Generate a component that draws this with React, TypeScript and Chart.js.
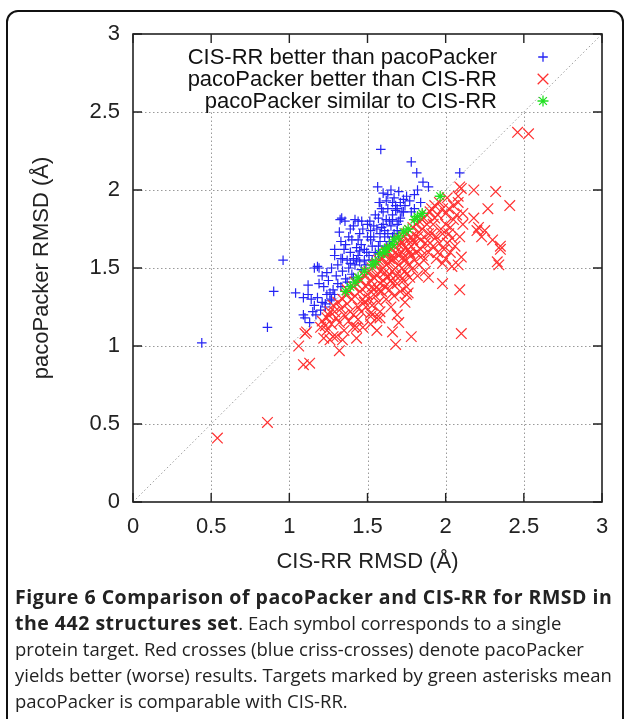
import React, { useEffect, useRef } from 'react';
import { Chart, registerables } from 'chart.js';

Chart.register(...registerables);

const xTickLabels = ['0', '0.5', '1', '1.5', '2', '2.5', '3'];
const yTickLabels = ['0', '0.5', '1', '1.5', '2', '2.5', '3'];
const gridValues = [0.5, 1, 1.5, 2, 2.5];
const tickValues = [0, 0.5, 1, 1.5, 2, 2.5, 3];
const xTitle = 'CIS-RR RMSD (Å)';
const yTitle = 'pacoPacker RMSD (Å)';
const legendLabels = [
  'CIS-RR better than pacoPacker',
  'pacoPacker better than CIS-RR',
  'pacoPacker similar to CIS-RR',
];
const diagonal: [number, number][] = [[0, 0], [3, 3]];

const cisBetter: [number, number][] = [
  [0.44, 1.02], [0.86, 1.12], [0.90, 1.35], [0.96, 1.55], [1.04, 1.34], [1.09, 1.31], [1.12, 1.39], [1.16, 1.50],
  [1.09, 1.20], [1.10, 1.18], [1.13, 1.15], [1.16, 1.26], [1.18, 1.31], [1.21, 1.28], [1.23, 1.25], [1.26, 1.34],
  [1.19, 1.50], [1.18, 1.51], [1.585, 2.26], [1.78, 2.18], [1.815, 2.11], [1.855, 2.05], [1.89, 2.02], [2.09, 2.11],
  [1.565, 2.02], [1.70, 1.99], [1.73, 1.94], [1.58, 1.92], [1.84, 1.92], [1.575, 1.92], [1.62, 1.93], [1.63, 1.88],
  [1.325, 1.81], [1.335, 1.82], [1.356, 1.80], [1.42, 1.81], [1.463, 1.80], [1.515, 1.80], [1.57, 1.82], [1.41, 1.77],
  [1.32, 1.73], [1.33, 1.67], [1.40, 1.68], [1.44, 1.68], [1.29, 1.58], [1.33, 1.56], [1.52, 1.74], [1.54, 1.70],
  [1.61, 1.70], [1.62, 1.81], [1.59, 1.76], [1.495, 1.60], [1.45, 1.61], [1.39, 1.60], [1.41, 1.56], [1.37, 1.55],
  [1.68, 1.90], [1.72, 1.86], [1.66, 1.84], [1.71, 1.82], [1.65, 1.77], [1.69, 1.74], [1.67, 1.72], [1.80, 1.88],
  [1.22, 1.38], [1.25, 1.42], [1.28, 1.36], [1.30, 1.45], [1.27, 1.50], [1.24, 1.47], [1.31, 1.40], [1.34, 1.48],
  [1.36, 1.43], [1.38, 1.50], [1.35, 1.62], [1.42, 1.52], [1.44, 1.58], [1.46, 1.65], [1.48, 1.55], [1.50, 1.70],
  [1.47, 1.75], [1.53, 1.64], [1.55, 1.60], [1.56, 1.75], [1.58, 1.67], [1.60, 1.78], [1.63, 1.72], [1.64, 1.80],
  [1.66, 1.92], [1.60, 1.86], [1.50, 1.78], [1.45, 1.72], [1.43, 1.63], [1.38, 1.70], [1.36, 1.65], [1.31, 1.52],
  [1.27, 1.30], [1.24, 1.33], [1.20, 1.23], [1.17, 1.20], [1.15, 1.22], [1.14, 1.30], [1.12, 1.33], [1.19, 1.40],
  [1.21, 1.45], [1.29, 1.62], [1.34, 1.56], [1.40, 1.46], [1.43, 1.55], [1.48, 1.62], [1.51, 1.58], [1.54, 1.77],
  [1.57, 1.64], [1.59, 1.88], [1.61, 1.74], [1.67, 1.95], [1.69, 1.88], [1.74, 1.90], [1.75, 1.96], [1.77, 1.93],
  [1.78, 1.86], [1.80, 1.97], [1.82, 2.00], [1.70, 1.80], [1.64, 1.67], [1.66, 1.70], [1.62, 1.64], [1.57, 1.59],
  [1.53, 1.55], [1.46, 1.49], [1.49, 1.52], [1.41, 1.44], [1.37, 1.41], [1.33, 1.38], [1.29, 1.33], [1.26, 1.29],
  [1.23, 1.27], [1.39, 1.53], [1.45, 1.54], [1.52, 1.68], [1.58, 1.72], [1.44, 1.80], [1.39, 1.75], [1.55, 1.84],
  [1.60, 1.98], [1.63, 1.97], [1.65, 2.00], [1.71, 1.92], [1.68, 1.87], [1.73, 1.86], [1.66, 1.81], [1.69, 1.78],
];

const pacoBetter: [number, number][] = [
  [0.54, 0.41], [0.86, 0.51], [1.06, 1.00], [1.10, 1.08], [1.09, 0.88], [1.13, 0.89], [1.20, 1.12],
  [2.46, 2.37], [2.53, 2.36], [2.10, 2.01], [2.18, 2.00], [2.32, 1.99], [2.41, 1.90], [2.27, 1.88], [2.08, 1.96],
  [2.08, 1.92], [2.20, 1.74], [2.25, 1.74], [2.23, 1.70], [2.30, 1.68], [2.35, 1.64], [2.00, 1.85], [2.11, 1.85],
  [2.05, 1.81], [2.09, 2.02], [2.21, 1.76], [2.09, 1.70], [2.04, 1.69], [2.10, 1.57], [2.33, 1.54], [2.18, 1.82],
  [2.11, 1.78], [2.35, 1.62], [2.34, 1.52], [1.98, 1.40], [2.09, 1.36], [2.10, 1.08], [1.76, 1.34], [1.70, 1.15],
  [1.66, 1.09], [1.68, 1.01], [1.78, 1.06], [1.32, 0.97], [1.28, 1.06], [1.52, 1.21], [1.58, 1.18], [1.41, 1.12],
  [1.24, 1.10], [1.24, 1.18], [1.89, 1.44], [1.75, 1.38], [2.00, 1.56], [2.04, 1.51], [2.08, 1.52], [1.98, 1.53],
  [1.75, 1.33], [1.11, 1.09], [1.23, 1.13], [1.26, 1.04], [1.30, 1.06], [1.43, 1.12], [1.56, 1.18], [1.52, 1.19],
  [1.21, 1.16], [1.25, 1.20], [1.27, 1.14], [1.29, 1.22], [1.22, 1.05], [1.28, 1.26], [1.30, 1.18], [1.26, 1.22],
  [1.31, 1.28], [1.33, 1.24], [1.34, 1.30], [1.35, 1.20], [1.36, 1.33], [1.37, 1.27], [1.38, 1.35], [1.39, 1.22],
  [1.32, 1.15], [1.35, 1.10], [1.38, 1.16], [1.40, 1.30], [1.34, 1.04], [1.37, 1.36],
  [1.41, 1.38], [1.42, 1.32], [1.43, 1.40], [1.44, 1.25], [1.45, 1.35], [1.46, 1.42], [1.47, 1.30], [1.48, 1.45],
  [1.49, 1.38], [1.50, 1.47], [1.41, 1.20], [1.44, 1.17], [1.46, 1.22], [1.48, 1.28], [1.43, 1.05], [1.47, 1.12],
  [1.50, 1.33], [1.42, 1.41], [1.45, 1.43], [1.49, 1.25],
  [1.51, 1.48], [1.52, 1.42], [1.53, 1.50], [1.54, 1.36], [1.55, 1.52], [1.56, 1.45], [1.57, 1.55], [1.58, 1.40],
  [1.59, 1.56], [1.60, 1.50], [1.51, 1.30], [1.53, 1.26], [1.55, 1.32], [1.57, 1.28], [1.59, 1.35], [1.52, 1.14],
  [1.56, 1.10], [1.58, 1.22], [1.54, 1.44], [1.56, 1.53], [1.58, 1.48], [1.60, 1.42], [1.53, 1.38], [1.57, 1.36],
  [1.61, 1.58], [1.62, 1.52], [1.63, 1.60], [1.64, 1.46], [1.65, 1.62], [1.66, 1.55], [1.67, 1.64], [1.68, 1.50],
  [1.69, 1.66], [1.70, 1.58], [1.61, 1.38], [1.62, 1.30], [1.63, 1.44], [1.64, 1.36], [1.65, 1.25], [1.66, 1.40],
  [1.67, 1.32], [1.68, 1.45], [1.69, 1.20], [1.62, 1.60], [1.64, 1.56], [1.66, 1.48], [1.68, 1.60], [1.70, 1.52],
  [1.61, 1.47], [1.63, 1.53], [1.65, 1.42], [1.67, 1.57], [1.69, 1.40], [1.70, 1.65],
  [1.71, 1.68], [1.72, 1.60], [1.73, 1.70], [1.74, 1.55], [1.75, 1.72], [1.76, 1.62], [1.77, 1.74], [1.78, 1.58],
  [1.79, 1.76], [1.80, 1.66], [1.71, 1.45], [1.72, 1.50], [1.73, 1.42], [1.74, 1.48], [1.76, 1.52], [1.77, 1.44],
  [1.78, 1.64], [1.79, 1.50], [1.72, 1.66], [1.74, 1.63], [1.76, 1.68], [1.78, 1.70], [1.80, 1.55], [1.73, 1.57],
  [1.75, 1.46], [1.77, 1.60], [1.79, 1.68], [1.71, 1.35], [1.74, 1.28],
  [1.81, 1.78], [1.82, 1.70], [1.83, 1.80], [1.84, 1.62], [1.85, 1.75], [1.86, 1.82], [1.87, 1.66], [1.88, 1.84],
  [1.89, 1.72], [1.90, 1.86], [1.81, 1.60], [1.83, 1.52], [1.85, 1.58], [1.87, 1.48], [1.89, 1.60], [1.82, 1.45],
  [1.84, 1.68], [1.86, 1.55], [1.88, 1.78], [1.90, 1.66], [1.83, 1.73], [1.85, 1.81],
  [1.91, 1.88], [1.92, 1.78], [1.93, 1.90], [1.94, 1.70], [1.95, 1.84], [1.96, 1.92], [1.97, 1.75], [1.98, 1.88],
  [1.99, 1.62], [2.00, 1.78], [1.92, 1.64], [1.94, 1.56], [1.96, 1.66], [1.98, 1.72], [1.93, 1.82], [1.95, 1.60],
  [1.91, 1.72], [2.01, 1.95], [2.02, 1.88], [2.03, 1.76], [2.05, 1.90], [2.06, 1.64], [2.07, 1.84], [2.01, 1.66],
  [2.03, 1.60], [2.02, 1.72],
];

const similar: [number, number][] = [
  [1.965, 1.96], [1.85, 1.85], [1.80, 1.81], [1.70, 1.70], [1.61, 1.62], [1.36, 1.35], [1.39, 1.38], [1.44, 1.44],
  [1.53, 1.52], [1.61, 1.60], [1.42, 1.41], [1.48, 1.48], [1.55, 1.54], [1.58, 1.59], [1.63, 1.63], [1.66, 1.65],
  [1.73, 1.73], [1.76, 1.75], [1.82, 1.83], [1.67, 1.68],
];

const BLUE = '#2424f4';
const RED = '#ff3030';
const GREEN = '#22e022';
const FONT = "'Liberation Sans', Arial, Helvetica, sans-serif";

function drawMarker(ctx: CanvasRenderingContext2D, kind: string, cx: number, cy: number, r: number) {
  ctx.beginPath();
  if (kind === 'cross' || kind === 'star') {
    ctx.moveTo(cx - r, cy); ctx.lineTo(cx + r, cy);
    ctx.moveTo(cx, cy - r); ctx.lineTo(cx, cy + r);
  }
  if (kind === 'crossRot' || kind === 'star') {
    const d = r * Math.SQRT1_2;
    ctx.moveTo(cx - d, cy - d); ctx.lineTo(cx + d, cy + d);
    ctx.moveTo(cx - d, cy + d); ctx.lineTo(cx + d, cy - d);
  }
  ctx.stroke();
}

const framePlugin = {
  id: 'gnuFrame',
  beforeDatasetsDraw(chart: any) {
    const { ctx, chartArea: a, scales } = chart;
    const xs = scales.x, ys = scales.y;
    ctx.save();
    ctx.strokeStyle = '#9a9a9a';
    ctx.lineWidth = 1;
    ctx.setLineDash([1.5, 2.5]);
    const yTop = ys.getPixelForValue(2.5);
    gridValues.forEach((v) => {
      const py = Math.round(ys.getPixelForValue(v)) + 0.5;
      ctx.beginPath(); ctx.moveTo(a.left, py); ctx.lineTo(a.right, py); ctx.stroke();
      const px = Math.round(xs.getPixelForValue(v)) + 0.5;
      ctx.beginPath(); ctx.moveTo(px, a.bottom); ctx.lineTo(px, yTop); ctx.stroke();
    });
    ctx.restore();
  },
  afterDatasetsDraw(chart: any) {
    const { ctx, chartArea: a, scales } = chart;
    const xs = scales.x, ys = scales.y;
    ctx.save();
    ctx.strokeStyle = '#222';
    ctx.lineWidth = 1.6;
    ctx.setLineDash([]);
    ctx.strokeRect(a.left, a.top, a.right - a.left, a.bottom - a.top);
    const tl = 9;
    ctx.lineWidth = 1.4;
    tickValues.forEach((v) => {
      const px = xs.getPixelForValue(v);
      const py = ys.getPixelForValue(v);
      ctx.beginPath();
      ctx.moveTo(px, a.bottom); ctx.lineTo(px, a.bottom - tl);
      ctx.moveTo(px, a.top); ctx.lineTo(px, a.top + tl);
      ctx.moveTo(a.left, py); ctx.lineTo(a.left + tl, py);
      ctx.moveTo(a.right, py); ctx.lineTo(a.right - tl, py);
      ctx.stroke();
    });
    // legend (key)
    const kinds = ['cross', 'crossRot', 'star'];
    const colors = [BLUE, RED, GREEN];
    const radii = [4.8, 7.5, 5.5];
    ctx.font = `22px ${FONT}`;
    ctx.textAlign = 'right';
    ctx.textBaseline = 'middle';
    legendLabels.forEach((label, i) => {
      const cy = a.top + 23 + i * 22;
      ctx.fillStyle = '#111';
      ctx.fillText(label, a.left + 364, cy + 1);
      ctx.strokeStyle = colors[i];
      ctx.lineWidth = 1.3;
      drawMarker(ctx, kinds[i], a.left + 410, cy, radii[i]);
    });
    ctx.restore();
  },
};

export default function App() {
  const ref = useRef<HTMLCanvasElement>(null);
  useEffect(() => {
    if (!ref.current) return;
    const pts = (arr: [number, number][]) => arr.map(([x, y]) => ({ x, y }));
    const chart = new Chart(ref.current, {
      type: 'scatter',
      data: {
        datasets: [
          {
            label: legendLabels[0], data: pts(cisBetter), pointStyle: 'cross', pointRadius: 4.8,
            pointBorderColor: BLUE, pointBackgroundColor: BLUE, pointBorderWidth: 1.2, borderColor: BLUE, order: 3,
          },
          {
            label: legendLabels[1], data: pts(pacoBetter), pointStyle: 'crossRot', pointRadius: 7.5,
            pointBorderColor: RED, pointBackgroundColor: RED, pointBorderWidth: 1.2, borderColor: RED, order: 2,
          },
          {
            label: legendLabels[2], data: pts(similar), pointStyle: 'star', pointRadius: 5.5,
            pointBorderColor: GREEN, pointBackgroundColor: GREEN, pointBorderWidth: 1.3, borderColor: GREEN, order: 1,
          },
          {
            label: 'diagonal', data: pts(diagonal), showLine: true, pointRadius: 0, borderColor: '#9a9a9a',
            borderWidth: 1, borderDash: [1.5, 2.5], order: 4,
          } as any,
        ],
      },
      options: {
        responsive: false,
        animation: false,
        devicePixelRatio: 1,
        layout: { padding: { top: 34, right: 22, left: 0, bottom: 0 } },
        plugins: { legend: { display: false }, tooltip: { enabled: false }, title: { display: false } },
        scales: {
          x: {
            type: 'linear', min: 0, max: 3,
            grid: { display: false, drawTicks: false },
            border: { display: false },
            ticks: {
              stepSize: 0.5, padding: 12, color: '#222', autoSkip: false, maxRotation: 0,
              font: { size: 22, family: FONT },
              callback: (_v: any, i: number) => xTickLabels[i],
            },
            title: {
              display: true, text: xTitle, color: '#222', font: { size: 22, family: FONT },
              padding: { top: 0, bottom: 15 },
            },
            afterFit: (s: any) => { s.height = 88; },
          },
          y: {
            type: 'linear', min: 0, max: 3,
            grid: { display: false, drawTicks: false },
            border: { display: false },
            ticks: {
              stepSize: 0.5, padding: 13, color: '#222', autoSkip: false,
              font: { size: 22, family: FONT },
              callback: (_v: any, i: number) => yTickLabels[i],
            },
            title: {
              display: true, text: yTitle, color: '#222', font: { size: 22, family: FONT },
              padding: { top: 29, bottom: 0 },
            },
            afterFit: (s: any) => { s.width = 133; },
          },
        },
      } as any,
      plugins: [framePlugin],
    });
    return () => chart.destroy();
  }, []);

  const lineStyle: React.CSSProperties = { whiteSpace: 'nowrap', height: 26, lineHeight: '26px' };
  const boldStyle: React.CSSProperties = { fontWeight: 700, fontSize: 19.5, letterSpacing: '0.5px' };
  return (
    <div style={{ position: 'absolute', left: 0, top: 0, width: 624, height: 719, overflow: 'hidden', background: '#fff' }}>
      <div style={{
        position: 'absolute', left: 6, top: 10, width: 618, height: 740, boxSizing: 'border-box',
        border: '2px solid #111', borderRadius: 12,
      }} />
      <canvas ref={ref} width={624} height={590} style={{ position: 'absolute', left: 0, top: 0, width: 624, height: 590 }} />
      <div style={{
        position: 'absolute', left: 15, top: 584, width: 609, color: '#222',
        fontFamily: "'Open Sans', 'Noto Sans', sans-serif", fontSize: 18.5,
      }}>
        <div style={lineStyle}><span style={boldStyle}>Figure 6 Comparison of pacoPacker and CIS-RR for RMSD in</span></div>
        <div style={lineStyle}><span style={boldStyle}>the 442 structures set</span>. Each symbol corresponds to a single</div>
        <div style={lineStyle}>protein target. Red crosses (blue criss-crosses) denote pacoPacker</div>
        <div style={lineStyle}>yields better (worse) results. Targets marked by green asterisks mean</div>
        <div style={lineStyle}>pacoPacker is comparable with CIS-RR.</div>
      </div>
    </div>
  );
}
